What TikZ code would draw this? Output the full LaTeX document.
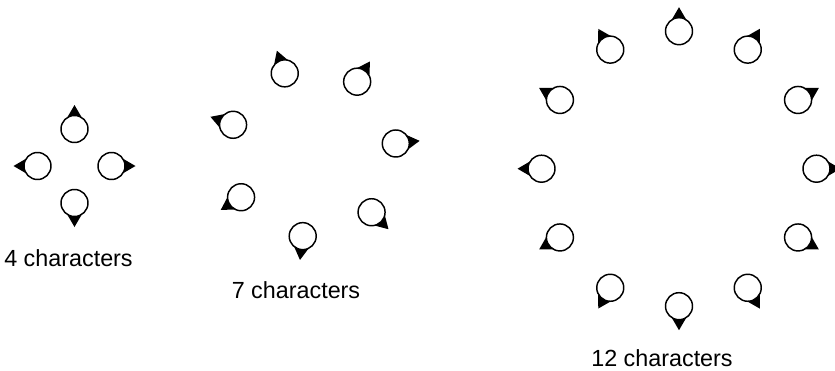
\documentclass[tikz,border=0pt]{standalone}
\usepackage{fontspec}
\setmainfont{Liberation Sans}
\usetikzlibrary{calc}
\begin{document}
\begin{tikzpicture}[x=0.75pt,y=-0.75pt]
\tikzset{
  charnode/.style={circle, draw=black, fill=white, line width=1.1pt, inner sep=0pt, minimum size=20.25pt},
  nose/.style={fill=black},
  lbl/.style={font=\fontsize{17.5}{20}\selectfont, inner sep=0pt}
}
\clip (0,0) rectangle (835,371);
% 4 characters
\foreach \i in {0,...,3} {
  \pgfmathsetmacro{\a}{-90+90*\i}
  \coordinate (p) at ($(74.5,166)+(\a:37)$);
  \fill[nose] ($(p)+(\a:24)$) -- ($(p)+({\a+38}:13)$) -- ($(p)+({\a-38}:13)$) -- cycle;
  \node[charnode] (four-\i) at (p) {};
}
% 7 characters
\foreach \i in {0,...,6} {
  \pgfmathsetmacro{\a}{-(6.3+360/7*\i)}
  \coordinate (p) at ($(312.3,152.7)+(\a:84)$);
  \fill[nose] ($(p)+(\a:24)$) -- ($(p)+({\a+38}:13)$) -- ($(p)+({\a-38}:13)$) -- cycle;
  \node[charnode] (seven-\i) at (p) {};
}
% 12 characters
\foreach \i in {0,...,11} {
  \pgfmathsetmacro{\a}{-90+30*\i}
  \coordinate (p) at ($(679,168.7)+(\a:137.5)$);
  \fill[nose] ($(p)+(\a:24)$) -- ($(p)+({\a+38}:13)$) -- ($(p)+({\a-38}:13)$) -- cycle;
  \node[charnode] (twelve-\i) at (p) {};
}
\node[lbl] (l4) at (68.5,258) {4 characters};
\node[lbl] (l7) at (296,290) {7 characters};
\node[lbl] (l12) at (662,358) {12 characters};
\end{tikzpicture}
\end{document}
